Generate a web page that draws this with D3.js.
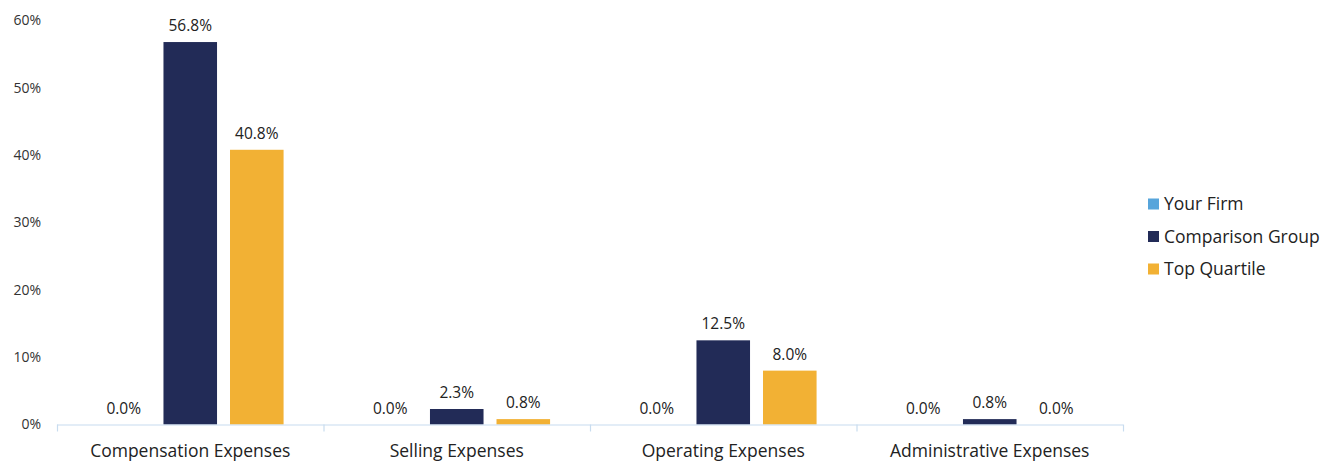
<!DOCTYPE html>
<html>
<head>
<meta charset="utf-8">
<script src="https://cdn.jsdelivr.net/npm/d3@7"></script>
<style>
  html, body { margin: 0; padding: 0; background: #fff; }
  svg { display: block; font-family: "Open Sans", sans-serif; }
</style>
</head>
<body>
<svg id="chart" width="1323" height="462"></svg>
<script>
const categories = ["Compensation Expenses", "Selling Expenses", "Operating Expenses", "Administrative Expenses"];
const seriesNames = ["Your Firm", "Comparison Group", "Top Quartile"];
const seriesColors = ["#57a5db", "#222b57", "#f2b134"];
const yourFirm = [0.0, 0.0, 0.0, 0.0];
const comparisonGroup = [56.8, 2.3, 12.5, 0.8];
const topQuartile = [40.8, 0.8, 8.0, 0.0];
const yTicks = [0, 10, 20, 30, 40, 50, 60];

(function () {
const series = [yourFirm, comparisonGroup, topQuartile];
const svg = d3.select("#chart");

const plotLeft = 57, plotRight = 1123, plotTop = 20.5, plotBottom = 424.5;

const x = d3.scaleBand().domain(categories).range([plotLeft, plotRight]).paddingInner(0).paddingOuter(0);
const xInner = d3.scaleBand().domain(seriesNames).range([0, x.bandwidth()]).paddingInner(0.195).paddingOuter(0.6);
const y = d3.scaleLinear().domain([0, 60]).range([plotBottom, plotTop]);

// Y axis labels (no axis line, no gridlines)
const yAxis = svg.append("g").attr("transform", `translate(${plotLeft},0)`)
  .call(d3.axisLeft(y).tickValues(yTicks).tickFormat(d => d + "%").tickSize(0).tickPadding(16));
yAxis.select(".domain").remove();
yAxis.selectAll("text").attr("font-size", 14).attr("fill", "#333").attr("font-family", "Open Sans");

// Bars with value labels
const groups = svg.append("g").selectAll("g").data(categories).join("g")
  .attr("transform", d => `translate(${x(d)},0)`);

groups.each(function (cat, ci) {
  const g = d3.select(this);
  seriesNames.forEach((name, si) => {
    const v = series[si][ci];
    g.append("rect")
      .attr("x", xInner(name))
      .attr("y", y(v))
      .attr("width", xInner.bandwidth())
      .attr("height", y(0) - y(v))
      .attr("fill", seriesColors[si]);
    g.append("text")
      .attr("x", xInner(name) + xInner.bandwidth() / 2)
      .attr("y", y(v) - 11)
      .attr("text-anchor", "middle")
      .attr("font-size", 15.5)
      .attr("fill", "#222")
      .text(v.toFixed(1) + "%");
  });
});

// X axis: light-blue baseline with category separators
const xAxis = svg.append("g").attr("transform", `translate(0,${plotBottom})`);
xAxis.append("line").attr("x1", plotLeft).attr("x2", plotRight).attr("y1", 0.5).attr("y2", 0.5)
  .attr("stroke", "#c8dcef").attr("stroke-width", 1.2);
const sepPositions = categories.map(c => x(c)).concat([plotRight]);
xAxis.selectAll("line.sep").data(sepPositions).join("line").attr("class", "sep")
  .attr("x1", d => d + 0.5).attr("x2", d => d + 0.5).attr("y1", 0).attr("y2", 7)
  .attr("stroke", "#c8dcef").attr("stroke-width", 1.2);
xAxis.selectAll("text").data(categories).join("text")
  .attr("x", d => x(d) + x.bandwidth() / 2)
  .attr("y", 32.5)
  .attr("text-anchor", "middle")
  .attr("font-size", 17.5)
  .attr("fill", "#222")
  .text(d => d);

// Legend
const legend = svg.append("g").attr("transform", "translate(1148,204)");
seriesNames.forEach((name, i) => {
  const row = legend.append("g").attr("transform", `translate(0,${i * 32.5})`);
  row.append("rect").attr("x", 0).attr("y", -5.5).attr("width", 11).attr("height", 11).attr("fill", seriesColors[i]);
  row.append("text").attr("x", 16).attr("y", 0).attr("dy", "0.35em")
    .attr("font-size", 17.5).attr("fill", "#222").text(name);
});
})();
</script>
</body>
</html>
